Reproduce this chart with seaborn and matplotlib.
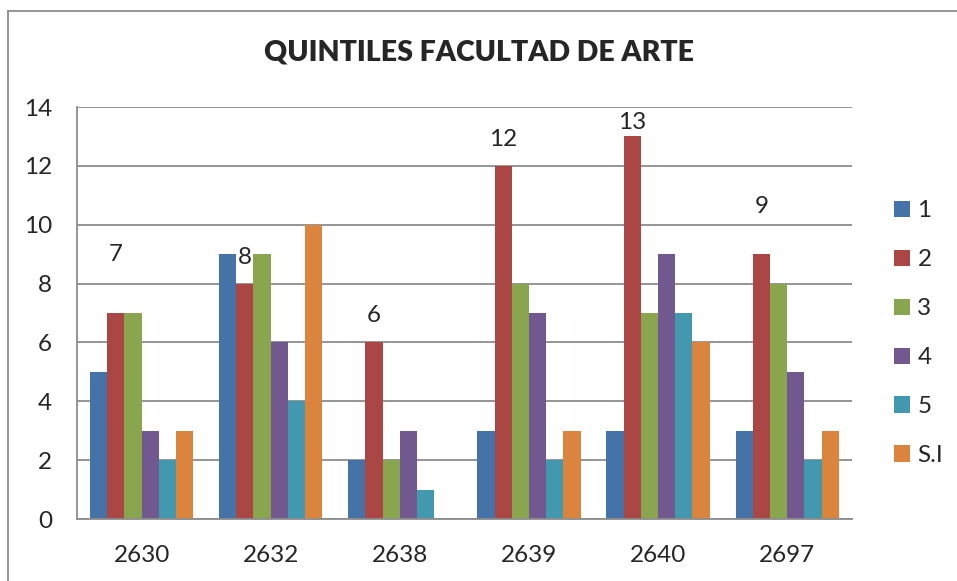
import pandas as pd
import matplotlib.pyplot as plt
import seaborn as sns
from matplotlib.lines import Line2D

# Datos
programas = ["2630", "2632", "2638", "2639", "2640", "2697"]
quintiles = ["1", "2", "3", "4", "5", "S.I"]
q1 = [5, 9, 2, 3, 3, 3]
q2 = [7, 8, 6, 12, 13, 9]
q3 = [7, 9, 2, 8, 7, 8]
q4 = [3, 6, 3, 7, 9, 5]
q5 = [2, 4, 1, 2, 7, 2]
q_si = [3, 10, 0, 3, 6, 3]
# etiquetas del quintil 2 (texto y altura donde aparecen)
etiquetas = ["7", "8", "6", "12", "13", "9"]
etiqueta_y = [9.0, 8.87, 6.9, 12.91, 13.49, 10.63]

colores = ["#4572A7", "#AA4643", "#89A54E", "#71588F", "#4198AF", "#DB843D"]

rows = []
for q, vals in zip(quintiles, [q1, q2, q3, q4, q5, q_si]):
    for p, v in zip(programas, vals):
        rows.append({"programa": p, "quintil": q, "valor": v})
df = pd.DataFrame(rows)

sns.set_style("white")
plt.rcParams["font.family"] = ["Lato", "DejaVu Sans"]

fig = plt.figure(figsize=(9.57, 5.81), dpi=100)
ax = fig.add_axes([0.0805, 0.1067, 0.8095, 0.7091])

sns.barplot(data=df, x="programa", y="valor", hue="quintil", order=programas,
            hue_order=quintiles, palette=colores, saturation=1, width=0.8,
            linewidth=0, ax=ax)

ax.set_ylim(0, 14)
ax.set_yticks(range(0, 15, 2))
ax.set_xlim(-0.5, 5.5)
ax.set_xlabel("")
ax.set_ylabel("")
ax.yaxis.grid(True, color="#8c8c8c", linewidth=1.3)
ax.set_axisbelow(True)
for s in ["top", "right"]:
    ax.spines[s].set_visible(False)
for s in ["left", "bottom"]:
    ax.spines[s].set_color("#8c8c8c")
    ax.spines[s].set_linewidth(1.3)
ax.tick_params(axis="y", length=0, pad=18, labelsize=17.5)
ax.tick_params(axis="x", length=0, pad=19, labelsize=17.5)

# etiquetas sobre la barra del quintil 2
desp = -0.8 / 2 + 0.8 / 6 * 1.5
for i, (t, y) in enumerate(zip(etiquetas, etiqueta_y)):
    ax.text(i + desp, y, t, ha="center", va="center", fontsize=17.5)

fig.suptitle("QUINTILES FACULTAD DE ARTE", x=0.5, y=1 - 53 / 581,
             va="center", fontsize=20.5, fontweight="heavy")

ax.legend(loc="upper left", bbox_to_anchor=(0.934, 0.655),
          bbox_transform=fig.transFigure, frameon=False, fontsize=17.5,
          handlelength=0.67, handleheight=0.67, handletextpad=0.3,
          labelspacing=1.15, borderpad=0, borderaxespad=0)

# borde del área del gráfico
fig.add_artist(Line2D([8 / 957, 1], [1 - 11 / 581] * 2, color="#8c8c8c",
                      linewidth=1.3, transform=fig.transFigure))
fig.add_artist(Line2D([8 / 957] * 2, [0, 1 - 11 / 581], color="#8c8c8c",
                      linewidth=1.3, transform=fig.transFigure))

fig.savefig("out.png", dpi=100)
